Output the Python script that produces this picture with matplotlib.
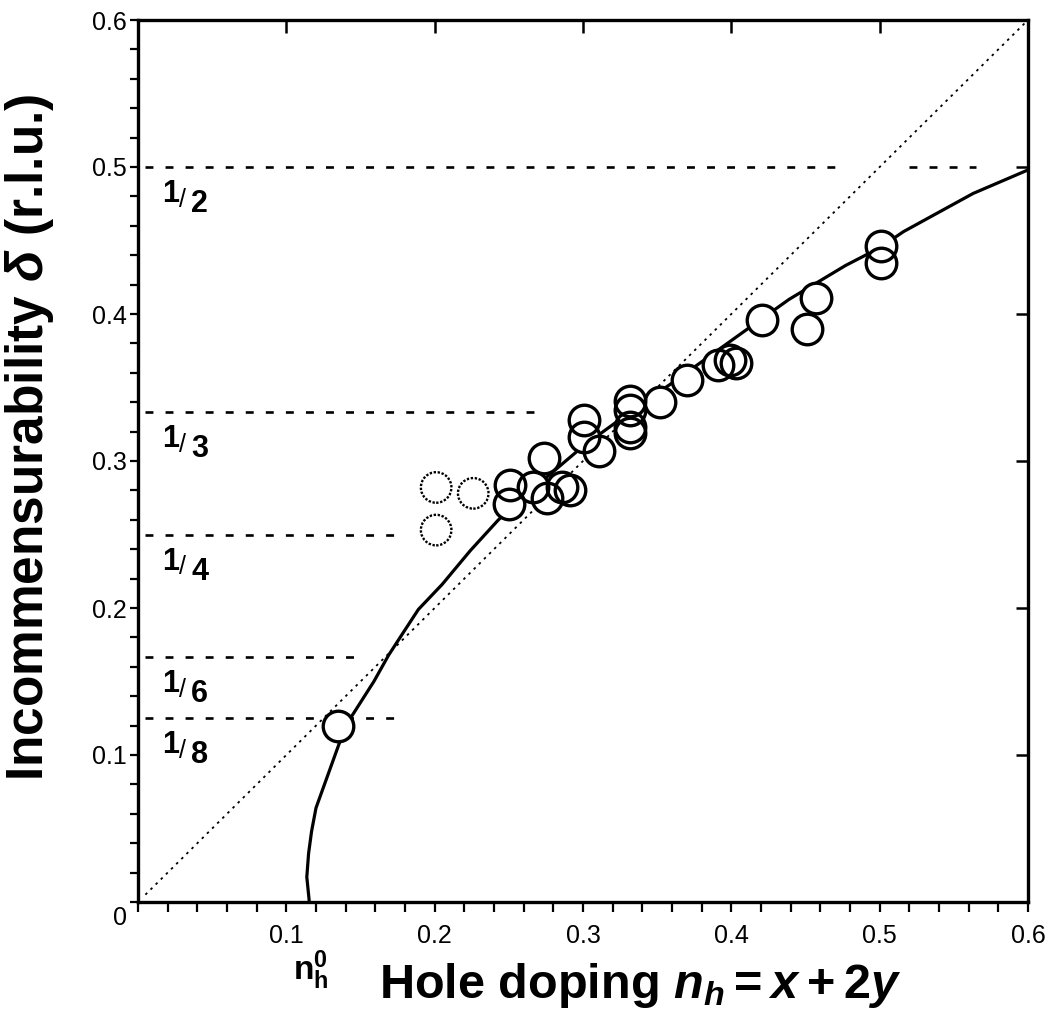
import matplotlib
matplotlib.use('Agg')
import matplotlib.pyplot as plt
from matplotlib.ticker import MultipleLocator, FixedLocator, NullFormatter

plt.rcParams['font.family'] = ['Liberation Sans', 'DejaVu Sans']
plt.rcParams['mathtext.fontset'] = 'custom'
plt.rcParams['mathtext.rm'] = 'Liberation Sans:bold'
plt.rcParams['mathtext.it'] = 'Liberation Sans:bold:italic'
plt.rcParams['mathtext.bf'] = 'Liberation Sans:bold'

# ---- data ----
nh_points = [0.135, 0.251, 0.250, 0.266, 0.274, 0.276, 0.286, 0.291,
             0.301, 0.301, 0.311, 0.332, 0.332, 0.332, 0.332,
             0.352, 0.370, 0.391, 0.399, 0.403, 0.421, 0.451, 0.457,
             0.501, 0.501]
delta_points = [0.120, 0.284, 0.271, 0.282, 0.302, 0.275, 0.282, 0.280,
                0.328, 0.316, 0.307, 0.341, 0.335, 0.323, 0.319,
                0.340, 0.355, 0.365, 0.369, 0.367, 0.396, 0.390, 0.411,
                0.446, 0.435]

nh_dotted = [0.201, 0.226, 0.201]
delta_dotted = [0.282, 0.278, 0.253]

curve_nh = [0.1155, 0.1138, 0.1150, 0.1170, 0.1200, 0.1250, 0.1300, 0.1350, 0.1400,
            0.147, 0.159, 0.169, 0.178, 0.189, 0.205, 0.224, 0.243, 0.265,
            0.300, 0.330, 0.360, 0.407, 0.439, 0.477, 0.500, 0.516, 0.563, 0.600]
curve_delta = [0.000, 0.017, 0.033, 0.048, 0.064, 0.078, 0.092, 0.106, 0.120,
               0.131, 0.150, 0.168, 0.182, 0.199, 0.216, 0.239, 0.260, 0.280,
               0.310, 0.332, 0.353, 0.387, 0.410, 0.433, 0.445, 0.456, 0.482, 0.498]

diag_nh = [0.005, 0.600]

frac_values = [1/2, 1/3, 1/4, 1/6, 1/8]
frac_denoms = ['2', '3', '4', '6', '8']
frac_segments = [[(0.005, 0.475), (0.520, 0.565)],
                 [(0.005, 0.272)],
                 [(0.005, 0.175)],
                 [(0.005, 0.152)],
                 [(0.005, 0.178)]]

x_major = [0.1, 0.2, 0.3, 0.4, 0.5, 0.6]
y_major = [0.0, 0.1, 0.2, 0.3, 0.4, 0.5, 0.6]

# ---- figure ----
W, H = 1050, 1025
fig = plt.figure(figsize=(W / 100, H / 100), dpi=100)
L, R, T, B = 138, 1028, 20, 902
ax = fig.add_axes([L / W, (H - B) / H, (R - L) / W, (B - T) / H])
ax.set_xlim(0, 0.6)
ax.set_ylim(0, 0.6)

PX = 72 / 100  # points per pixel

# guide lines
for val, segs in zip(frac_values, frac_segments):
    for (x0, x1) in segs:
        ax.plot([x0, x1], [val, val], color='black', lw=1.9,
                dashes=(3.0, 4.6), solid_capstyle='butt', zorder=1)

# diagonal dotted
ax.plot(diag_nh, diag_nh, color='black', lw=1.3, dashes=(1.4, 2.6), zorder=1)

# solid curve
ax.plot(curve_nh, curve_delta, color='black', lw=2.3, zorder=2)

# data points: white fill then edges
ms = 22
ax.plot(nh_points, delta_points, 'o', ms=ms, mfc='white', mec='none', zorder=3)
ax.plot(nh_points, delta_points, 'o', ms=ms, mfc='none', mec='black', mew=2.4, zorder=4)
ax.scatter(nh_dotted, delta_dotted, s=ms ** 2, facecolors='none', edgecolors='black',
           linewidths=1.7, linestyles=(0, (1.0, 0.7)), zorder=4)

# fraction labels
for val, den in zip(frac_values, frac_denoms):
    ax.annotate('1', xy=(0, val), xytext=(24 * PX, -12 * PX), textcoords='offset points',
                ha='left', va='top', fontsize=22, fontweight='bold')
    ax.annotate('/', xy=(0, val), xytext=(41 * PX, -21 * PX), textcoords='offset points',
                ha='left', va='top', fontsize=18)
    ax.annotate(den, xy=(0, val), xytext=(53 * PX, -22 * PX), textcoords='offset points',
                ha='left', va='top', fontsize=22, fontweight='bold')

# spines & ticks
for s in ax.spines.values():
    s.set_linewidth(2.4)
ax.xaxis.set_major_locator(FixedLocator(x_major))
ax.xaxis.set_minor_locator(MultipleLocator(0.02))
ax.yaxis.set_major_locator(FixedLocator(y_major))
ax.yaxis.set_minor_locator(MultipleLocator(0.02))
ax.set_xticklabels([f'{v:.1f}' for v in x_major])
ax.set_yticklabels(['' if v == 0 else f'{v:.1f}' for v in y_major])
ax.tick_params(axis='x', which='both', direction='out', length=7, width=1.6,
               labelsize=18, pad=9, top=False)
ax.tick_params(axis='y', which='both', direction='out', length=6, width=1.6,
               labelsize=18, pad=2, right=False)

secx = ax.secondary_xaxis('top')
secx.xaxis.set_major_locator(FixedLocator([0.1, 0.2, 0.3, 0.4, 0.5]))
secx.xaxis.set_major_formatter(NullFormatter())
secx.tick_params(direction='in', length=9, width=1.8)
secx.spines['top'].set_visible(False)
secy = ax.secondary_yaxis('right')
secy.yaxis.set_major_locator(FixedLocator([0.1, 0.2, 0.3, 0.4, 0.5]))
secy.yaxis.set_major_formatter(NullFormatter())
secy.tick_params(direction='in', length=9, width=1.8)
secy.spines['right'].set_visible(False)

# origin "0"
fig.text(120 / W, 1 - 918 / H, '0', fontsize=18, ha='center', va='center')

# axis labels
fig.text(30 / W, 1 - 437 / H, r'Incommensurability $\delta$ (r.l.u.)', rotation=90,
         fontsize=37, fontweight='bold', ha='center', va='center')
fig.text(640 / W, 1 - 985 / H, r'Hole doping $n_h = x + 2y$',
         fontsize=35, fontweight='bold', ha='center', va='center')
fig.text(311 / W, 1 - 970 / H, r'$\mathrm{n}_\mathrm{h}^\mathrm{0}$',
         fontsize=24, ha='center', va='center')

fig.savefig('out.png', dpi=100)
